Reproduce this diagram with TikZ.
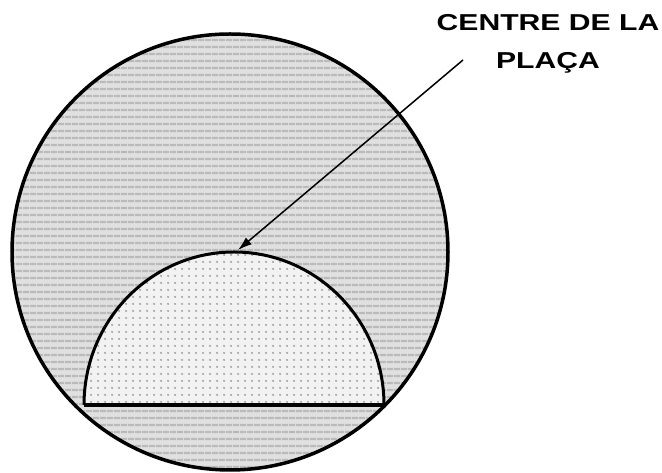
\documentclass[tikz,border=0pt]{standalone}
\usepackage{fontspec}
\setmainfont{Liberation Sans}
\usetikzlibrary{arrows.meta,patterns.meta}
\definecolor{plategray}{RGB}{224,224,224}
\definecolor{stripegray}{RGB}{186,186,186}
\definecolor{domegray}{RGB}{242,242,242}

\begin{document}
\begin{tikzpicture}[x=1pt,y=1pt]
\useasboundingbox (0,0) rectangle (662,473);
% plate
\fill[plategray] (230,221) circle (218);
\fill[pattern={Lines[angle=0,distance=6.5pt,line width=2.2pt]},pattern color=stripegray] (230,221) circle (218);
% dome
\fill[domegray] (84,68) arc[start angle=180,end angle=0,x radius=150,y radius=153] -- cycle;
\fill[pattern={Dots[distance=6.5pt,radius=1.1pt]},pattern color=gray!80] (84,68) arc[start angle=180,end angle=0,x radius=150,y radius=153] -- cycle;
\draw[line width=3pt] (84,68) arc[start angle=180,end angle=0,x radius=150,y radius=153];
\draw[line width=3.5pt] (84,68) -- (384,68);
\draw[line width=3.5pt] (230,221) circle (218);
% label and arrow
\coordinate (domeTop) at (238,223);
\coordinate (tail) at (463,413);
\node[font=\bfseries\fontsize{23}{38}\selectfont,align=center] (label) at (548,429)
  {\scalebox{1.31}[1]{CENTRE DE LA}\\\scalebox{1.31}[1]{PLAÇA}};
\draw[line width=1.5pt,-{Latex[length=14pt,width=9pt]}] (tail) -- (domeTop);
\end{tikzpicture}
\end{document}
